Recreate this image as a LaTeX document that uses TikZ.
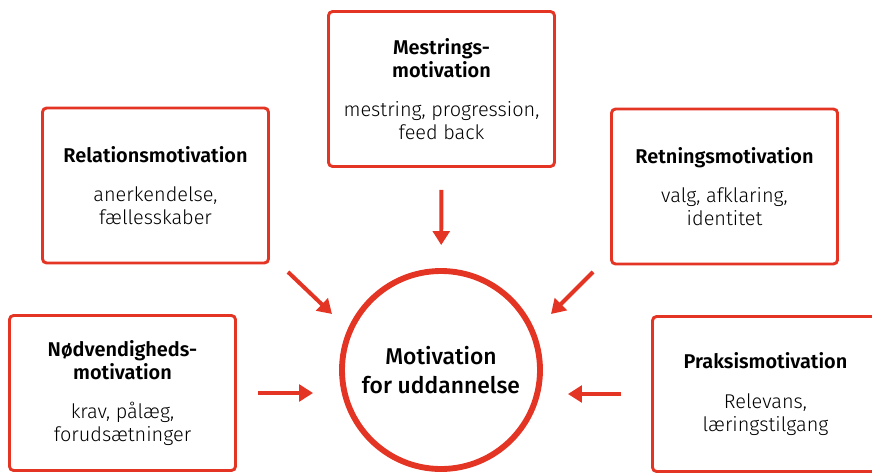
\documentclass[tikz,border=0pt]{standalone}
\usepackage{fontspec}
\setmainfont{Fira Sans Light}[BoldFont={Fira Sans SemiBold}]
\newfontfamily\medium{Fira Sans Medium}
\usetikzlibrary{arrows.meta}
\definecolor{motivred}{RGB}{228,52,36}

\begin{document}
\begin{tikzpicture}[x=0.03cm,y=-0.03cm,
		box/.style={draw=motivred, line width=2.5pt, rounded corners=3.5pt, minimum width=6.78cm, minimum height=4.65cm, align=center, font=\fontsize{17}{19.5}\selectfont},
		hub/.style={circle, draw=motivred, line width=5pt, minimum size=5.94cm, inner sep=0pt, align=center, font=\fontsize{19.5}{25.5}\selectfont\medium},
		pil/.style={draw=motivred, line width=3.4pt, -{Triangle[length=0.42cm,width=0.5cm]}}]
			\useasboundingbox (0,0) rectangle (872,472);
			\clip (0,0) rectangle (872,472);
			% midten
			\node[hub] (motiv) at (441,370) {Motivation\\for uddannelse};
			% de fem kasser
			\node[box] (mestring) at (441.5,89) {\textbf{Mestrings-}\\\textbf{motivation}\\[14pt]mestring, progression,\\feed back};
			\node[box] (relation) at (155.5,185.5) {\textbf{Relationsmotivation}\\[14pt]anerkendelse,\\fællesskaber};
			\node[box] (retning) at (724.5,186.5) {\textbf{Retningsmotivation}\\[14pt]valg, afklaring,\\identitet};
			\node[box] (noed) at (122.5,393) {\textbf{Nødvendigheds-}\\\textbf{motivation}\\[14pt]krav, pålæg,\\forudsætninger};
			\node[box] (praksis) at (765.5,394) {\textbf{Praksismotivation}\\[14pt]Relevans,\\læringstilgang};
			% pile
			\coordinate (relfra) at (288,272);
			\coordinate (reltil) at (332,314);
			\coordinate (retfra) at (593,272);
			\coordinate (rettil) at (551,314);
			\draw[pil, shorten <=0.66cm, shorten >=0.69cm] (mestring) -- (motiv);
			\draw[pil] (relfra) -- (reltil);
			\draw[pil] (retfra) -- (rettil);
			\draw[pil, shorten <=0.63cm, shorten >=0.78cm] (noed.east) -- (noed.east -| motiv.west);
			\draw[pil, shorten <=0.9cm, shorten >=0.75cm] (praksis.west) -- (praksis.west -| motiv.east);
		\end{tikzpicture}
\end{document}
